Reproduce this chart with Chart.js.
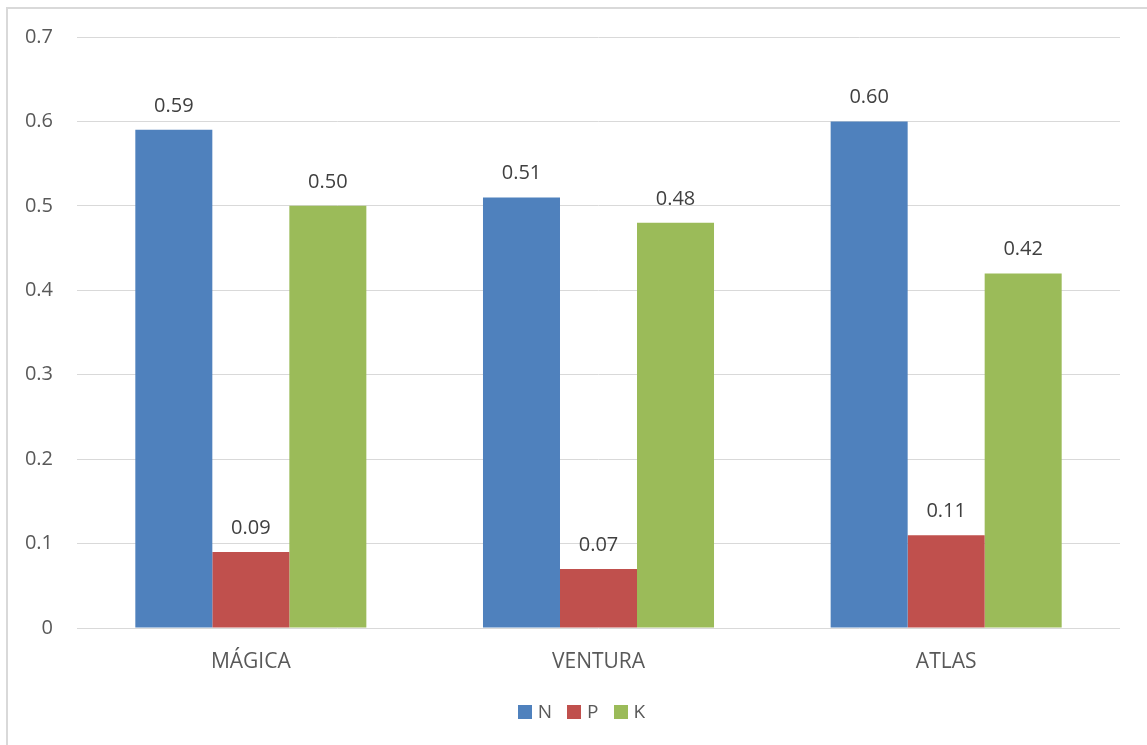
<!DOCTYPE html>
<html>
<head>
<meta charset="utf-8">
<script src="https://cdn.jsdelivr.net/npm/chart.js@4/dist/chart.umd.min.js"></script>
<style>
html,body{margin:0;padding:0;background:#fff;overflow:hidden;width:1147px;height:745px;}
#frame{position:absolute;left:6px;top:7px;width:1200px;height:800px;border:2px solid #d9d9d9;box-sizing:border-box;}
#c{position:absolute;left:0;top:0;}
</style>
</head>
<body>
<div id="frame"></div>
<canvas id="c" width="1147" height="745"></canvas>
<script>
const categories = ["MÁGICA", "VENTURA", "ATLAS"];
const seriesNames = ["N", "P", "K"];
const valuesN = [0.59, 0.51, 0.60];
const valuesP = [0.09, 0.07, 0.11];
const valuesK = [0.50, 0.48, 0.42];
const yTicks = [0, 0.1, 0.2, 0.3, 0.4, 0.5, 0.6, 0.7];
const colors = ["#4F81BD", "#C0504D", "#9BBB59"];

const FONT = "'Open Sans', sans-serif";
Chart.defaults.font.family = FONT;
Chart.defaults.color = "#595959";

const valueLabels = {
  id: "valueLabels",
  afterDatasetsDraw(chart) {
    const ctx = chart.ctx;
    ctx.save();
    ctx.font = "20px " + FONT;
    ctx.fillStyle = "#404040";
    ctx.textAlign = "center";
    ctx.textBaseline = "alphabetic";
    chart.data.datasets.forEach((ds, i) => {
      const meta = chart.getDatasetMeta(i);
      meta.data.forEach((bar, j) => {
        ctx.fillText(ds.data[j].toFixed(2), bar.x, bar.y - 18);
      });
    });
    ctx.restore();
  }
};

// Legend drawn below the chart, centred like the reference
const bottomLegend = {
  id: "bottomLegend",
  afterDraw(chart) {
    const ctx = chart.ctx;
    const box = 14, gapText = 6, gapItem = 15, centerX = 581.5, centerY = 712;
    ctx.save();
    ctx.font = "19px " + FONT;
    ctx.textBaseline = "middle";
    ctx.textAlign = "left";
    const items = chart.data.datasets.map(ds => ({ label: ds.label, color: ds.backgroundColor, w: ctx.measureText(ds.label).width }));
    let total = items.reduce((s, it) => s + box + gapText + it.w, 0) + gapItem * (items.length - 1);
    let x = centerX - total / 2;
    items.forEach(it => {
      ctx.fillStyle = it.color;
      ctx.fillRect(Math.round(x), centerY - box / 2, box, box);
      ctx.fillStyle = "#595959";
      ctx.fillText(it.label, x + box + gapText, centerY + 1);
      x += box + gapText + it.w + gapItem;
    });
    ctx.restore();
  }
};

new Chart(document.getElementById("c"), {
  type: "bar",
  data: {
    labels: categories,
    datasets: [valuesN, valuesP, valuesK].map((d, i) => ({
      label: seriesNames[i],
      data: d,
      backgroundColor: colors[i],
      borderWidth: 0,
      categoryPercentage: 0.6645,
      barPercentage: 1
    }))
  },
  options: {
    responsive: false,
    animation: false,
    devicePixelRatio: 1,
    layout: { padding: { left: 0, right: 27, top: 37, bottom: 52 } },
    plugins: {
      tooltip: { enabled: false },
      legend: { display: false }
    },
    scales: {
      x: {
        grid: { display: false, drawTicks: false },
        border: { display: false },
        ticks: { padding: 21, font: { size: 21 }, color: "#595959" },
        afterFit(s) { s.height = 65; }
      },
      y: {
        min: 0, max: 0.7,
        afterBuildTicks(s) { s.ticks = yTicks.map(v => ({ value: v })); },
        grid: { color: "#d9d9d9", lineWidth: 1, drawTicks: false },
        border: { display: false },
        ticks: {
          padding: 24, font: { size: 20 }, color: "#595959",
          callback: v => String(Number(v.toFixed(1)))
        },
        afterFit(s) { s.width = 77; }
      }
    }
  },
  plugins: [valueLabels, bottomLegend]
});
</script>
</body>
</html>
